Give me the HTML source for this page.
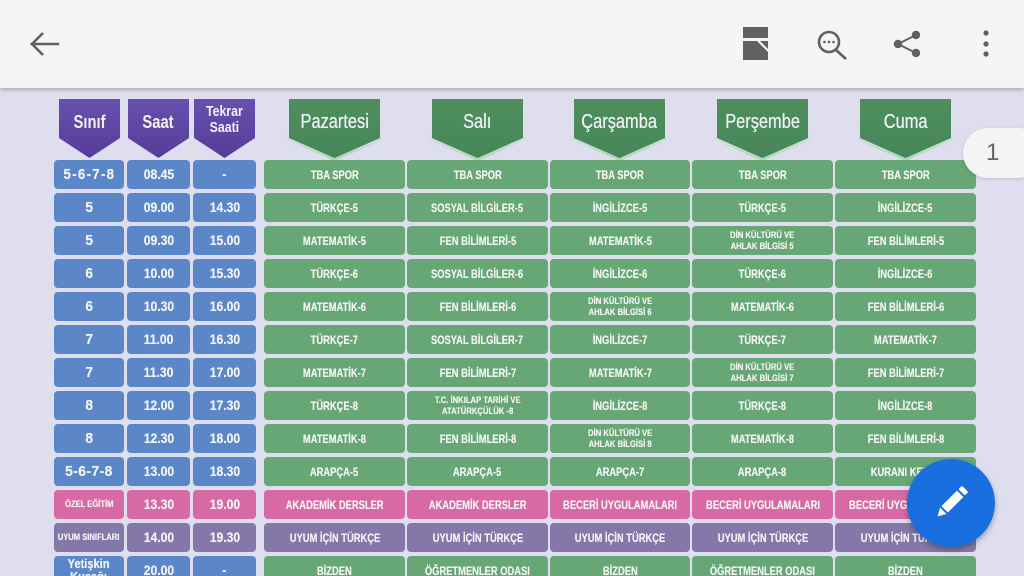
<!DOCTYPE html>
<html><head><meta charset="utf-8">
<style>
*{margin:0;padding:0;box-sizing:border-box}
html,body{width:1024px;height:576px;overflow:hidden}
body{background:#dedeee;font-family:"Liberation Sans",sans-serif;position:relative}
.top{position:absolute;left:0;top:0;width:1024px;height:88px;background:#f5f5f5;box-shadow:0 2px 4px rgba(0,0,0,.22);z-index:5}
.c{position:absolute;height:29px;border-radius:4px;display:flex;align-items:center;justify-content:center;color:#f4f4f4;font-weight:bold;overflow:hidden}
.c span{display:inline-block;white-space:nowrap;transform:scaleX(.78);font-size:12px;line-height:1;text-align:center;text-shadow:0 0 .4px #f4f4f4}
.c span.s2{font-size:9.6px;line-height:11px;transform:scaleX(.8)}
.b{background:#5b87c9}.g{background:#67a675}.p{background:#d76aa5}.v{background:#8478a8}
.a0{left:54px;width:70px}.a1{left:127px;width:63px}.a2{left:193px;width:63px}
.a0 span,.a1 span,.a2 span{font-size:13.5px;transform:scaleX(.9)}
.a0 span.big{font-size:15px;transform:scaleX(.92);letter-spacing:.5px}
.a0 span.big0{font-size:15px;transform:scaleX(.88);letter-spacing:1.5px}
.a0 span.sm{font-size:9.5px;transform:scaleX(.8)}
.d0{left:264px;width:141px}.d1{left:407px;width:141px}.d2{left:550px;width:140px}.d3{left:692px;width:141px}.d4{left:835px;width:141px}
.r0{top:160px}.r1{top:193px}.r2{top:226px}.r3{top:259px}.r4{top:292px}.r5{top:325px}.r6{top:358px}.r7{top:391px}.r8{top:424px}.r9{top:457px}.r10{top:490px}.r11{top:523px}.r12{top:556px}
.h{position:absolute;top:99px;height:59px;clip-path:polygon(0 0,100% 0,100% 66%,50% 100%,0 66%)}
.hp{width:61px;background:linear-gradient(#6751ae,#573b9a)}
.hg{width:91px;background:linear-gradient(#4f8f5d,#46865a)}
.hgl{width:95px;top:100px;height:61px;background:linear-gradient(#dedeee 55%,#a9d8b0)}
.ht{position:absolute;top:99px;height:40px;display:flex;align-items:center;justify-content:center;color:#f2f2f6;text-align:center}
.ht span{display:inline-block;white-space:nowrap}
.dn{font-size:20px;transform:scaleX(.82);text-shadow:0 0 .6px #f2f2f6}
</style></head><body>

<div class="top">
<svg width="1024" height="88" style="position:absolute;left:0;top:0">
 <g stroke="#616161" stroke-width="2.6" fill="none" stroke-linecap="square">
  <line x1="32" y1="44" x2="58" y2="44"/>
  <polyline points="43,33 32,44 43,55" stroke-linecap="butt"/>
 </g>
 <g fill="#616161">
  <rect x="743" y="27" width="25" height="11"/>
  <path d="M743 41 H757 L768 52 V60 H743 Z"/>
  <path d="M760 41 L768 49 V41 Z"/>
 </g>
 <circle cx="829" cy="42" r="10" stroke="#616161" stroke-width="2.6" fill="none"/>
 <line x1="836" y1="50" x2="846" y2="59" stroke="#616161" stroke-width="2.8"/>
 <circle cx="824.5" cy="42" r="1.3" fill="#616161"/><circle cx="829" cy="42" r="1.3" fill="#616161"/><circle cx="833.5" cy="42" r="1.3" fill="#616161"/>
 <g fill="#616161">
  <circle cx="916" cy="35" r="4.2"/><circle cx="898" cy="44" r="4.2"/><circle cx="916" cy="53" r="4.2"/>
 </g>
 <g stroke="#616161" stroke-width="2"><line x1="916" y1="35" x2="898" y2="44"/><line x1="898" y1="44" x2="916" y2="53"/></g>
 <g fill="#616161"><circle cx="986" cy="33" r="2.6"/><circle cx="986" cy="44" r="2.6"/><circle cx="986" cy="54" r="2.6"/></g>
</svg>
</div>

<!-- left headers -->
<div class="h hp" style="left:59px"></div>
<div class="h hp" style="left:128px"></div>
<div class="h hp" style="left:194px"></div>
<div class="ht" style="left:59px;width:61px;top:102px"><span style="font-size:18px;font-weight:bold;transform:scaleX(.82)">Sınıf</span></div>
<div class="ht" style="left:128px;width:61px;top:102px"><span style="font-size:18px;font-weight:bold;transform:scaleX(.82)">Saat</span></div>
<div class="ht" style="left:194px;width:61px;top:100px"><span style="font-size:15px;font-weight:bold;line-height:16px;transform:scaleX(.82)">Tekrar<br>Saati</span></div>

<!-- day headers -->
<div class="h hgl" style="left:287px"></div><div class="h hg" style="left:289px"></div>
<div class="h hgl" style="left:430px"></div><div class="h hg" style="left:432px"></div>
<div class="h hgl" style="left:572px"></div><div class="h hg" style="left:574px"></div>
<div class="h hgl" style="left:715px"></div><div class="h hg" style="left:717px"></div>
<div class="h hgl" style="left:858px"></div><div class="h hg" style="left:860px"></div>
<div class="ht" style="left:289px;width:91px;top:102px"><span class="dn">Pazartesi</span></div>
<div class="ht" style="left:432px;width:91px;top:102px"><span class="dn">Salı</span></div>
<div class="ht" style="left:574px;width:91px;top:102px"><span class="dn">Çarşamba</span></div>
<div class="ht" style="left:717px;width:91px;top:102px"><span class="dn">Perşembe</span></div>
<div class="ht" style="left:860px;width:91px;top:102px"><span class="dn">Cuma</span></div>

<!-- row 0 -->
<div class="c b a0 r0"><span class="big0">5-6-7-8</span></div><div class="c b a1 r0"><span>08.45</span></div><div class="c b a2 r0"><span>-</span></div>
<div class="c g d0 r0"><span>TBA SPOR</span></div><div class="c g d1 r0"><span>TBA SPOR</span></div><div class="c g d2 r0"><span>TBA SPOR</span></div><div class="c g d3 r0"><span>TBA SPOR</span></div><div class="c g d4 r0"><span>TBA SPOR</span></div>
<!-- row 1 -->
<div class="c b a0 r1"><span class="big">5</span></div><div class="c b a1 r1"><span>09.00</span></div><div class="c b a2 r1"><span>14.30</span></div>
<div class="c g d0 r1"><span>TÜRKÇE-5</span></div><div class="c g d1 r1"><span>SOSYAL BİLGİLER-5</span></div><div class="c g d2 r1"><span>İNGİLİZCE-5</span></div><div class="c g d3 r1"><span>TÜRKÇE-5</span></div><div class="c g d4 r1"><span>İNGİLİZCE-5</span></div>
<!-- row 2 -->
<div class="c b a0 r2"><span class="big">5</span></div><div class="c b a1 r2"><span>09.30</span></div><div class="c b a2 r2"><span>15.00</span></div>
<div class="c g d0 r2"><span>MATEMATİK-5</span></div><div class="c g d1 r2"><span>FEN BİLİMLERİ-5</span></div><div class="c g d2 r2"><span>MATEMATİK-5</span></div><div class="c g d3 r2"><span class="s2">DİN KÜLTÜRÜ VE<br>AHLAK BİLGİSİ 5</span></div><div class="c g d4 r2"><span>FEN BİLİMLERİ-5</span></div>
<!-- row 3 -->
<div class="c b a0 r3"><span class="big">6</span></div><div class="c b a1 r3"><span>10.00</span></div><div class="c b a2 r3"><span>15.30</span></div>
<div class="c g d0 r3"><span>TÜRKÇE-6</span></div><div class="c g d1 r3"><span>SOSYAL BİLGİLER-6</span></div><div class="c g d2 r3"><span>İNGİLİZCE-6</span></div><div class="c g d3 r3"><span>TÜRKÇE-6</span></div><div class="c g d4 r3"><span>İNGİLİZCE-6</span></div>
<!-- row 4 -->
<div class="c b a0 r4"><span class="big">6</span></div><div class="c b a1 r4"><span>10.30</span></div><div class="c b a2 r4"><span>16.00</span></div>
<div class="c g d0 r4"><span>MATEMATİK-6</span></div><div class="c g d1 r4"><span>FEN BİLİMLERİ-6</span></div><div class="c g d2 r4"><span class="s2">DİN KÜLTÜRÜ VE<br>AHLAK BİLGİSİ 6</span></div><div class="c g d3 r4"><span>MATEMATİK-6</span></div><div class="c g d4 r4"><span>FEN BİLİMLERİ-6</span></div>
<!-- row 5 -->
<div class="c b a0 r5"><span class="big">7</span></div><div class="c b a1 r5"><span>11.00</span></div><div class="c b a2 r5"><span>16.30</span></div>
<div class="c g d0 r5"><span>TÜRKÇE-7</span></div><div class="c g d1 r5"><span>SOSYAL BİLGİLER-7</span></div><div class="c g d2 r5"><span>İNGİLİZCE-7</span></div><div class="c g d3 r5"><span>TÜRKÇE-7</span></div><div class="c g d4 r5"><span>MATEMATİK-7</span></div>
<!-- row 6 -->
<div class="c b a0 r6"><span class="big">7</span></div><div class="c b a1 r6"><span>11.30</span></div><div class="c b a2 r6"><span>17.00</span></div>
<div class="c g d0 r6"><span>MATEMATİK-7</span></div><div class="c g d1 r6"><span>FEN BİLİMLERİ-7</span></div><div class="c g d2 r6"><span>MATEMATİK-7</span></div><div class="c g d3 r6"><span class="s2">DİN KÜLTÜRÜ VE<br>AHLAK BİLGİSİ 7</span></div><div class="c g d4 r6"><span>FEN BİLİMLERİ-7</span></div>
<!-- row 7 -->
<div class="c b a0 r7"><span class="big">8</span></div><div class="c b a1 r7"><span>12.00</span></div><div class="c b a2 r7"><span>17.30</span></div>
<div class="c g d0 r7"><span>TÜRKÇE-8</span></div><div class="c g d1 r7"><span class="s2">T.C. İNKILAP TARİHİ VE<br>ATATÜRKÇÜLÜK -8</span></div><div class="c g d2 r7"><span>İNGİLİZCE-8</span></div><div class="c g d3 r7"><span>TÜRKÇE-8</span></div><div class="c g d4 r7"><span>İNGİLİZCE-8</span></div>
<!-- row 8 -->
<div class="c b a0 r8"><span class="big">8</span></div><div class="c b a1 r8"><span>12.30</span></div><div class="c b a2 r8"><span>18.00</span></div>
<div class="c g d0 r8"><span>MATEMATİK-8</span></div><div class="c g d1 r8"><span>FEN BİLİMLERİ-8</span></div><div class="c g d2 r8"><span class="s2">DİN KÜLTÜRÜ VE<br>AHLAK BİLGİSİ 8</span></div><div class="c g d3 r8"><span>MATEMATİK-8</span></div><div class="c g d4 r8"><span>FEN BİLİMLERİ-8</span></div>
<!-- row 9 -->
<div class="c b a0 r9"><span class="big">5-6-7-8</span></div><div class="c b a1 r9"><span>13.00</span></div><div class="c b a2 r9"><span>18.30</span></div>
<div class="c g d0 r9"><span>ARAPÇA-5</span></div><div class="c g d1 r9"><span>ARAPÇA-5</span></div><div class="c g d2 r9"><span>ARAPÇA-7</span></div><div class="c g d3 r9"><span>ARAPÇA-8</span></div><div class="c g d4 r9"><span>KURANI KERİM</span></div>
<!-- row 10 -->
<div class="c p a0 r10"><span class="sm">ÖZEL EĞİTİM</span></div><div class="c p a1 r10"><span>13.30</span></div><div class="c p a2 r10"><span>19.00</span></div>
<div class="c p d0 r10"><span>AKADEMİK DERSLER</span></div><div class="c p d1 r10"><span>AKADEMİK DERSLER</span></div><div class="c p d2 r10"><span>BECERİ UYGULAMALARI</span></div><div class="c p d3 r10"><span>BECERİ UYGULAMALARI</span></div><div class="c p d4 r10"><span>BECERİ UYGULAMALARI</span></div>
<!-- row 11 -->
<div class="c v a0 r11"><span class="sm">UYUM SINIFLARI</span></div><div class="c v a1 r11"><span>14.00</span></div><div class="c v a2 r11"><span>19.30</span></div>
<div class="c v d0 r11"><span>UYUM İÇİN TÜRKÇE</span></div><div class="c v d1 r11"><span>UYUM İÇİN TÜRKÇE</span></div><div class="c v d2 r11"><span>UYUM İÇİN TÜRKÇE</span></div><div class="c v d3 r11"><span>UYUM İÇİN TÜRKÇE</span></div><div class="c v d4 r11"><span>UYUM İÇİN TÜRKÇE</span></div>
<!-- row 12 -->
<div class="c b a0 r12" style="align-items:flex-start;padding-top:1px"><span style="font-size:13px;line-height:13px;transform:scaleX(.85)">Yetişkin<br>Kuşağı</span></div><div class="c b a1 r12"><span>20.00</span></div><div class="c b a2 r12"><span>-</span></div>
<div class="c g d0 r12"><span>BİZDEN</span></div><div class="c g d1 r12"><span>ÖĞRETMENLER ODASI</span></div><div class="c g d2 r12"><span>BİZDEN</span></div><div class="c g d3 r12"><span>ÖĞRETMENLER ODASI</span></div><div class="c g d4 r12"><span>BİZDEN</span></div>

<!-- page indicator -->
<div style="position:absolute;left:963px;top:128px;width:80px;height:50px;border-radius:25px;background:#f4f4f4;box-shadow:0 1px 3px rgba(0,0,0,.15);color:#666;font-size:24px;line-height:50px;padding-left:23px">1</div>

<!-- FAB -->
<div style="position:absolute;left:907px;top:459px;width:88px;height:88px;border-radius:50%;background:#1a6fe0;box-shadow:0 3px 6px rgba(0,0,0,.3)"></div>
<svg width="88" height="88" style="position:absolute;left:907px;top:459px">
 <g transform="translate(44,44) rotate(45)">
  <rect x="-4.5" y="-20" width="9" height="5" rx="1.5" fill="#fff"/>
  <rect x="-4.5" y="-13" width="9" height="22" fill="#fff"/>
  <polygon points="-4.5,11 4.5,11 0,19" fill="#fff"/>
 </g>
</svg>
</body></html>
